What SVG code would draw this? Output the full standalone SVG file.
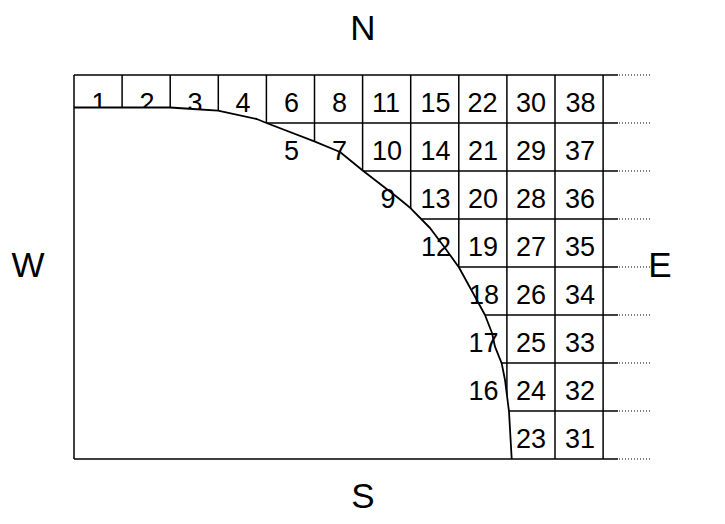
<svg xmlns="http://www.w3.org/2000/svg" width="725" height="524" viewBox="0 0 725 524">
<style>
.g{stroke:#000;stroke-width:1.5;fill:none}
.d{stroke:#000;stroke-width:1;stroke-dasharray:1 2;fill:none}
.c{stroke:#000;stroke-width:1.8;fill:none;stroke-linejoin:round}
text{font-family:"Liberation Sans",Arial,sans-serif;fill:#000}
.n{font-size:27px;text-anchor:middle}
.k{font-size:35px;text-anchor:middle}
</style>
<rect width="725" height="524" fill="#fff"/>
<g id="connectors">
<g id="grid-vertical" class="g">
<line x1="122.1" y1="75" x2="122.1" y2="459"/>
<line x1="170.2" y1="75" x2="170.2" y2="459"/>
<line x1="218.3" y1="75" x2="218.3" y2="459"/>
<line x1="266.4" y1="75" x2="266.4" y2="459"/>
<line x1="314.5" y1="75" x2="314.5" y2="459"/>
<line x1="362.6" y1="75" x2="362.6" y2="459"/>
<line x1="410.7" y1="75" x2="410.7" y2="459"/>
<line x1="458.8" y1="75" x2="458.8" y2="459"/>
<line x1="506.9" y1="75" x2="506.9" y2="459"/>
<line x1="555" y1="75" x2="555" y2="459"/>
<line x1="603.1" y1="75" x2="603.1" y2="459"/>
</g>
<g id="grid-horizontal" class="g">
<line x1="74" y1="75" x2="618" y2="75"/>
<line x1="74" y1="123" x2="618" y2="123"/>
<line x1="74" y1="171" x2="618" y2="171"/>
<line x1="74" y1="219" x2="618" y2="219"/>
<line x1="74" y1="267" x2="618" y2="267"/>
<line x1="74" y1="315" x2="618" y2="315"/>
<line x1="74" y1="363" x2="618" y2="363"/>
<line x1="74" y1="411" x2="618" y2="411"/>
</g>
<g id="dotted" class="d">
<line x1="619" y1="75" x2="650" y2="75"/>
<line x1="619" y1="123" x2="650" y2="123"/>
<line x1="619" y1="171" x2="650" y2="171"/>
<line x1="619" y1="219" x2="650" y2="219"/>
<line x1="619" y1="267" x2="650" y2="267"/>
<line x1="619" y1="315" x2="650" y2="315"/>
<line x1="619" y1="363" x2="650" y2="363"/>
<line x1="619" y1="411" x2="650" y2="411"/>
<line x1="619" y1="459" x2="650" y2="459"/>
</g>
</g>
<g id="cell-1"><text class="n" x="99" y="112">1</text></g>
<g id="cell-2"><text class="n" x="147" y="112">2</text></g>
<g id="cell-3"><text class="n" x="195" y="112">3</text></g>
<path id="interior" fill="#fff" d="M74,107.5 L170,107.5 L193,109 L218,110.7 L256.7,119 L266.5,123 L315,141.7 L340,152 L363,170.7 L396.7,196.7 L410.7,208.3 L430,228 L445,248 L459,267.5 L473,293 L485,315 L492,333 L495,346.7 L501.7,363.3 L505,380 L509,411.5 L511.7,459 L74,459 Z"/>
<g id="frame" class="g">
<line x1="74" y1="75" x2="74" y2="459"/>
<line x1="74" y1="459" x2="618" y2="459"/>
</g>
<g id="cells">
<g id="cell-4"><text class="n" x="243" y="112">4</text></g>
<g id="cell-6"><text class="n" x="291.5" y="112">6</text></g>
<g id="cell-8"><text class="n" x="339.5" y="112">8</text></g>
<g id="cell-11"><text class="n" x="386" y="112">11</text></g>
<g id="cell-15"><text class="n" x="435.5" y="112">15</text></g>
<g id="cell-22"><text class="n" x="482.5" y="112">22</text></g>
<g id="cell-30"><text class="n" x="531" y="112">30</text></g>
<g id="cell-38"><text class="n" x="580.5" y="112">38</text></g>
<g id="cell-5"><text class="n" x="291.5" y="160">5</text></g>
<g id="cell-7"><text class="n" x="339.5" y="160">7</text></g>
<g id="cell-10"><text class="n" x="387" y="160">10</text></g>
<g id="cell-14"><text class="n" x="435.5" y="160">14</text></g>
<g id="cell-21"><text class="n" x="483" y="160">21</text></g>
<g id="cell-29"><text class="n" x="531" y="160">29</text></g>
<g id="cell-37"><text class="n" x="580" y="160">37</text></g>
<g id="cell-9"><text class="n" x="388" y="208">9</text></g>
<g id="cell-13"><text class="n" x="435.5" y="208">13</text></g>
<g id="cell-20"><text class="n" x="483" y="208">20</text></g>
<g id="cell-28"><text class="n" x="531" y="208">28</text></g>
<g id="cell-36"><text class="n" x="580" y="208">36</text></g>
<g id="cell-12"><text class="n" x="436" y="256">12</text></g>
<g id="cell-19"><text class="n" x="483" y="256">19</text></g>
<g id="cell-27"><text class="n" x="531" y="256">27</text></g>
<g id="cell-35"><text class="n" x="580" y="256">35</text></g>
<g id="cell-18"><text class="n" x="484" y="304">18</text></g>
<g id="cell-26"><text class="n" x="531" y="304">26</text></g>
<g id="cell-34"><text class="n" x="580" y="304">34</text></g>
<g id="cell-17"><text class="n" x="483.5" y="352">17</text></g>
<g id="cell-25"><text class="n" x="531" y="352">25</text></g>
<g id="cell-33"><text class="n" x="580" y="352">33</text></g>
<g id="cell-16"><text class="n" x="483.5" y="400">16</text></g>
<g id="cell-24"><text class="n" x="531" y="400">24</text></g>
<g id="cell-32"><text class="n" x="580" y="400">32</text></g>
<g id="cell-23"><text class="n" x="531" y="448">23</text></g>
<g id="cell-31"><text class="n" x="580" y="448">31</text></g>
</g>
<path id="arc" class="c" d="M74,107.5 L170,107.5 L193,109 L218,110.7 L256.7,119 L266.5,123 L315,141.7 L340,152 L363,170.7 L396.7,196.7 L410.7,208.3 L430,228 L445,248 L459,267.5 L473,293 L485,315 L492,333 L495,346.7 L501.7,363.3 L505,380 L509,411.5 L511.7,459"/>
<g id="compass">
<text class="k" x="363" y="40">N</text>
<text class="k" x="363" y="508">S</text>
<text class="k" x="28" y="277">W</text>
<text class="k" x="660" y="277">E</text>
</g>
</svg>
